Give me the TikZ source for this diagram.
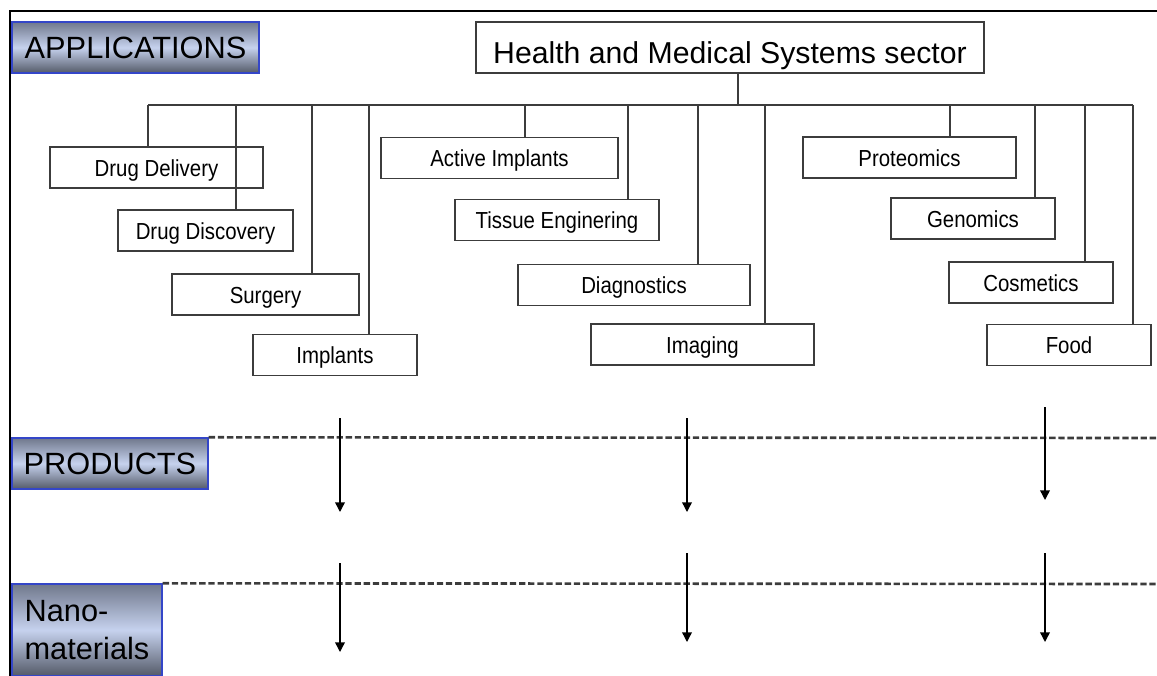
\documentclass[tikz,border=0pt]{standalone}
\usepackage{fontspec}
\setmainfont{Liberation Sans}
\newfontfamily\narrowsf[FakeStretch=0.88]{Liberation Sans}
\usetikzlibrary{arrows.meta}

\definecolor{labtop}{RGB}{112,120,140}
\definecolor{labmid}{RGB}{198,210,238}
\definecolor{labbot}{RGB}{84,90,104}
\definecolor{labedge}{RGB}{52,70,200}
\definecolor{linegray}{RGB}{60,60,60}

\tikzset{
    sector/.style={draw=linegray, line width=0.8pt, minimum height=1.02cm, inner sep=0pt,
        text height=17.9pt, text depth=0pt, font=\fontsize{17.2}{20}\selectfont},
    appbox/.style={draw=linegray, line width=0.8pt, minimum height=0.82cm, inner sep=0pt,
        text height=10pt, text depth=0pt, font=\narrowsf\fontsize{13.2}{15}\selectfont},
    layer/.style={draw=labedge, line width=0.8pt, top color=labtop, bottom color=labbot,
        middle color=labmid, inner sep=0pt, font=\fontsize{17.5}{22}\selectfont},
    branch/.style={draw=linegray, line width=0.8pt},
    sep/.style={draw=linegray, line width=1.5pt, dash pattern=on 3.6pt off 1.6pt},
    flow/.style={-{Triangle[length=5.5pt,width=5.5pt]}, line width=0.8pt}
}

\begin{document}
\begin{tikzpicture}[x=0.02cm, y=-0.02cm]
        \useasboundingbox (0,0) rectangle (1157,676);
        \draw[line width=1.4pt] (10,676) -- (10,11) -- (1157,11);

        % layer labels
        \node[layer, minimum width=4.94cm, minimum height=1.02cm] (apps) at (135.5,47.5) {APPLICATIONS};
        \node[layer, minimum width=3.92cm, minimum height=1.02cm] (prods) at (110,463.5) {PRODUCTS};
        \node[layer, minimum width=3cm, minimum height=1.84cm, align=left] (nano) at (87,630) {Nano-\\materials};

        % sector and its applications
        \node[sector, minimum width=10.16cm] (hms) at (730,47.5) {Health and Medical Systems sector};

        \node[appbox, minimum width=4.26cm] (ddel) at (156.5,167.5) {Drug Delivery};
        \node[appbox, minimum width=3.5cm] (ddis) at (205.5,230.5) {Drug Discovery};
        \node[appbox, minimum width=3.74cm] (surg) at (265.5,294.5) {Surgery};
        \node[appbox, minimum width=3.28cm] (impl) at (335,355) {Implants};
        \node[appbox, minimum width=4.74cm] (aimp) at (499.5,158) {Active Implants};
        \node[appbox, minimum width=4.08cm] (tiss) at (557,220) {Tissue Enginering};
        \node[appbox, minimum width=4.64cm] (diag) at (634,285) {Diagnostics};
        \node[appbox, minimum width=4.46cm] (imag) at (702.5,344.5) {Imaging};
        \node[appbox, minimum width=4.26cm] (prot) at (909.5,157.5) {Proteomics};
        \node[appbox, minimum width=3.28cm] (geno) at (973,218.5) {Genomics};
        \node[appbox, minimum width=3.28cm] (cosm) at (1031,282.5) {Cosmetics};
        \node[appbox, minimum width=3.28cm] (food) at (1069,345) {Food};

        % tree
        \coordinate (busL) at (148,105);
        \coordinate (busR) at (1133,105);
        \draw[branch] (hms.south -| 738,0) -- (busL -| 738,0);
        \draw[branch] (busL) -- (busR);
        \foreach \n/\x in {ddel/148, ddis/236, surg/312, impl/369, aimp/525, tiss/628,
                           diag/698, imag/765, prot/950, geno/1035, cosm/1085, food/1133} {
            \draw[branch] (busL -| \x,0) -- (\n.north -| \x,0);
        }

        % layers
        \draw[sep] (prods.north east) -- (1157,438);
        \draw[sep] (nano.north east) -- (1157,584);
        \foreach \x/\a/\b/\c/\d in {340/418/512/563/652, 687/418/512/553/642, 1045/407/500/553/642} {
            \draw[flow] (\x,\a) -- (\x,\b);
            \draw[flow] (\x,\c) -- (\x,\d);
        }
\end{tikzpicture}
\end{document}
